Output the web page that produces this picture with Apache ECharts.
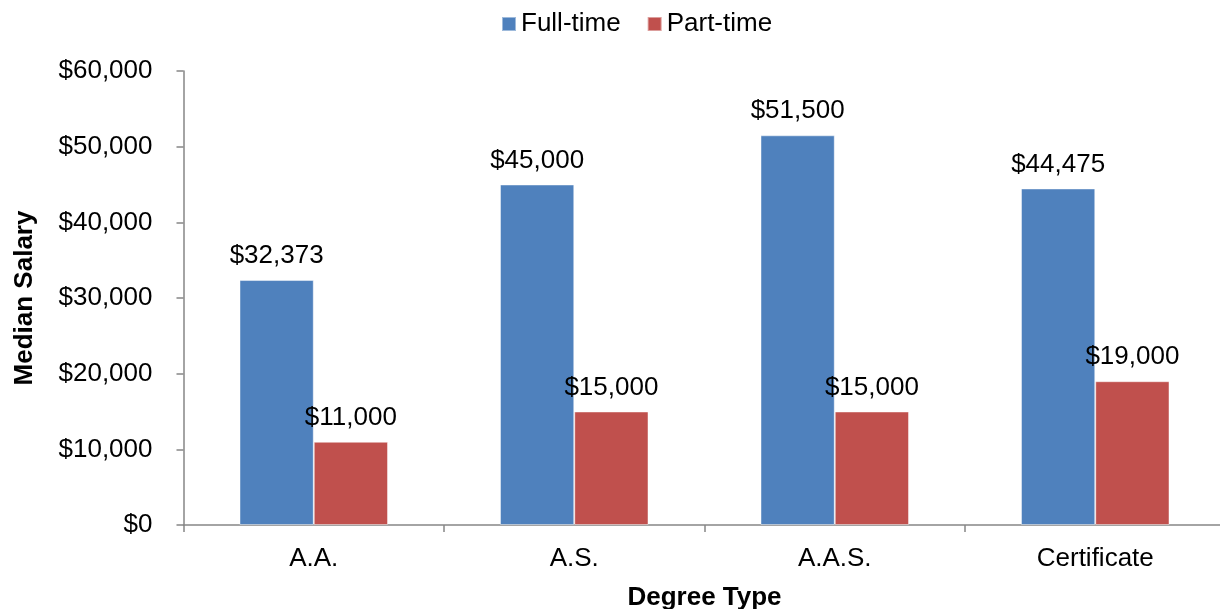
<!DOCTYPE html>
<html>
<head>
<meta charset="utf-8">
<title>Median Salary by Degree Type</title>
<script src="https://cdn.jsdelivr.net/npm/echarts@6/dist/echarts.min.js"></script>
<style>
  html, body { margin: 0; padding: 0; background: #ffffff; }
  #chart { width: 1220px; height: 609px; }
</style>
</head>
<body>
<div id="chart"></div>
<script>
// Degree categories and median salaries (USD)
const categories = ['A.A.', 'A.S.', 'A.A.S.', 'Certificate'];
const fullTime = [32373, 45000, 51500, 44475];
const partTime = [11000, 15000, 15000, 19000];
const seriesNames = ['Full-time', 'Part-time'];

const FONT = '"Liberation Sans", Arial, sans-serif';
const AXIS_GRAY = '#868686';

function money(v) {
  return '$' + Number(v).toLocaleString('en-US');
}

const chart = echarts.init(document.getElementById('chart'), null, { renderer: 'canvas' });

const labelStyle = {
  show: true,
  position: 'top',
  distance: 11,
  color: '#000000',
  fontFamily: FONT,
  fontSize: 26,
  formatter: p => money(p.value)
};

chart.setOption({
  backgroundColor: '#ffffff',
  animation: false,
  textStyle: { fontFamily: FONT },
  legend: {
    data: seriesNames,
    left: 496,
    top: 6,
    itemWidth: 14,
    itemHeight: 14,
    itemGap: 26,
    icon: 'rect',
    textStyle: { fontFamily: FONT, fontSize: 26, color: '#000000' }
  },
  grid: {
    left: 183.5,
    top: 71,
    width: 1042,
    height: 454,
    outerBoundsMode: 'none',
    containLabel: false
  },
  xAxis: {
    type: 'category',
    data: categories,
    name: 'Degree Type',
    nameLocation: 'middle',
    nameGap: 60,
    nameTextStyle: { fontFamily: FONT, fontSize: 26, fontWeight: 'bold', color: '#000000' },
    axisLine: { lineStyle: { color: AXIS_GRAY, width: 1.5 } },
    axisTick: { show: true, length: 7, alignWithLabel: false, lineStyle: { color: AXIS_GRAY, width: 1.5 } },
    axisLabel: { margin: 21, fontFamily: FONT, fontSize: 26, color: '#000000' },
    splitLine: { show: false }
  },
  yAxis: {
    type: 'value',
    min: 0,
    max: 60000,
    interval: 10000,
    name: 'Median Salary',
    nameLocation: 'middle',
    nameGap: 146,
    nameRotate: 90,
    nameTextStyle: { fontFamily: FONT, fontSize: 26, fontWeight: 'bold', color: '#000000' },
    axisLine: { show: true, lineStyle: { color: AXIS_GRAY, width: 1.5 } },
    axisTick: { show: true, length: 7, lineStyle: { color: AXIS_GRAY, width: 1.5 } },
    axisLabel: { margin: 31, fontFamily: FONT, fontSize: 26, color: '#000000', formatter: v => money(v) },
    splitLine: { show: false }
  },
  series: [
    {
      name: seriesNames[0],
      type: 'bar',
      data: fullTime,
      barGap: '0%',
      barCategoryGap: '43%',
      itemStyle: { color: '#4F81BD', borderColor: 'rgba(255,255,255,0.45)', borderWidth: 1 },
      label: labelStyle
    },
    {
      name: seriesNames[1],
      type: 'bar',
      data: partTime,
      barGap: '0%',
      barCategoryGap: '43%',
      itemStyle: { color: '#C0504D', borderColor: 'rgba(255,255,255,0.45)', borderWidth: 1 },
      label: labelStyle
    }
  ]
});
</script>
</body>
</html>
